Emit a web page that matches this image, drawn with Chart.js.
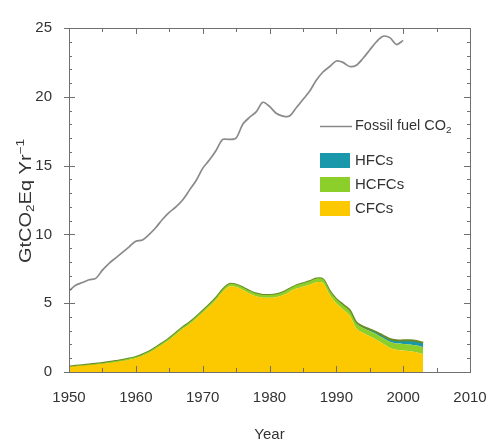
<!DOCTYPE html>
<html>
<head>
<meta charset="utf-8">
<script src="https://cdn.jsdelivr.net/npm/chart.js@4.4.0/dist/chart.umd.min.js"></script>
<style>
html, body { margin: 0; padding: 0; background: #fff; }
#wrap { width: 489px; height: 444px; }
</style>
</head>
<body>
<div id="wrap"><canvas id="chart" width="489" height="444"></canvas></div>
<script>
// halocarbon years (stacked areas)
const years = [1950,1951,1952,1953,1954,1955,1956,1957,1958,1959,
  1960,1961,1962,1963,1964,1965,1966,1967,1968,1969,
  1970,1971,1972,1973,1974,1975,1976,1977,1978,1979,
  1980,1981,1982,1983,1984,1985,1986,1987,1988,1989,
  1990,1991,1992,1993,1994,1995,1996,1997,1998,1999,
  2000,2001,2002,2003];
const cfcs = [0.37,0.42,0.46,0.51,0.55,0.60,0.66,0.73,0.80,0.89,
  1.00,1.18,1.39,1.69,2.00,2.33,2.72,3.12,3.46,3.86,
  4.30,4.75,5.24,5.83,6.22,6.17,5.96,5.71,5.50,5.40,
  5.40,5.44,5.58,5.82,6.06,6.20,6.34,6.53,6.47,5.61,
  4.98,4.54,4.10,3.17,2.84,2.60,2.35,2.05,1.76,1.61,
  1.56,1.50,1.42,1.30];
const hcfcs = [0.03,0.03,0.04,0.04,0.05,0.05,0.06,0.07,0.08,0.09,
  0.10,0.10,0.11,0.11,0.12,0.12,0.13,0.13,0.14,0.14,
  0.15,0.15,0.16,0.17,0.18,0.18,0.19,0.19,0.20,0.20,
  0.20,0.21,0.22,0.23,0.24,0.25,0.26,0.27,0.28,0.29,
  0.30,0.32,0.34,0.35,0.36,0.38,0.40,0.42,0.44,0.46,
  0.48,0.50,0.50,0.50];
const hfcs = [0,0,0,0,0,0,0,0,0,0,
  0,0,0,0,0,0,0,0,0,0,
  0,0,0,0,0,0,0,0,0,0,
  0,0,0,0,0,0,0,0,0,0,
  0.02,0.04,0.06,0.08,0.10,0.12,0.15,0.18,0.20,0.23,
  0.26,0.30,0.33,0.33];

// fossil fuel CO2 line
const fossilYears = [1950,1951,1952,1953,1954,1955,1956,1957,1958,1959,
  1960,1961,1962,1963,1964,1965,1966,1967,1968,1969,
  1970,1971,1972,1973,1974,1975,1976,1977,1978,1979,
  1980,1981,1982,1983,1984,1985,1986,1987,1988,1989,
  1990,1991,1992,1993,1994,1995,1996,1997,1998,1999,2000];
const fossil = [5.9,6.3,6.5,6.7,6.8,7.4,7.9,8.3,8.7,9.1,
  9.5,9.6,10.0,10.5,11.1,11.6,12.0,12.5,13.2,13.9,
  14.8,15.4,16.1,16.9,16.9,17.0,18.0,18.5,18.9,19.6,
  19.3,18.8,18.6,18.6,19.2,19.8,20.4,21.2,21.8,22.2,
  22.6,22.5,22.2,22.3,22.8,23.4,24.0,24.4,24.3,23.8,24.1];

const xTicks = [1950, 1960, 1970, 1980, 1990, 2000, 2010];
const yTicks = [0, 5, 10, 15, 20, 25];

const FONT = '"Liberation Sans", Arial, sans-serif';
const TEXT = '#333';
const FRAME = '#707070';
const colCFC = '#fcc900', colHCFC = '#8ccf2a', colHFC = '#1898aa', colLine = '#8a8a8a';

const pts = (xs, ys) => xs.map((x, i) => ({ x, y: ys[i] }));

// draws text pieces with sub/superscripts, returns width
function richText(ctx, parts, x, y, size, measureOnly) {
  let w = 0;
  parts.forEach(p => {
    const s = p.sub || p.sup ? size * 0.68 : size;
    ctx.font = s + 'px ' + FONT;
    const dy = p.sub ? size * 0.28 : p.sup ? -size * 0.38 : 0;
    if (!measureOnly) ctx.fillText(p.t, x + w, y + dy);
    w += ctx.measureText(p.t).width;
  });
  return w;
}

const frameTicks = {
  id: 'frameTicks',
  afterDatasetsDraw(chart) {
    const { ctx, chartArea: a, scales: { x, y } } = chart;
    ctx.save();
    ctx.strokeStyle = FRAME;
    ctx.lineWidth = 1;
    ctx.strokeRect(Math.round(a.left) + 0.5, Math.round(a.top) + 0.5,
      Math.round(a.right - a.left), Math.round(a.bottom - a.top));
    ctx.beginPath();
    for (let yr = 1950; yr <= 2010; yr += 5) {
      const px = Math.round(x.getPixelForValue(yr)) + 0.5;
      const len = yr % 10 === 0 ? 6 : 4;
      ctx.moveTo(px, a.bottom); ctx.lineTo(px, a.bottom - len);
      ctx.moveTo(px, a.top); ctx.lineTo(px, a.top + len);
    }
    for (let v = 0; v <= 25; v++) {
      const py = Math.round(y.getPixelForValue(v)) + 0.5;
      const len = v % 5 === 0 ? 6 : 3;
      ctx.moveTo(a.left - (v % 5 === 0 ? 5 : 0), py); ctx.lineTo(a.left + len, py);
      ctx.moveTo(a.right, py); ctx.lineTo(a.right - len, py);
    }
    ctx.stroke();
    ctx.restore();
  },
  afterDraw(chart) {
    const ctx = chart.ctx;
    ctx.save();
    ctx.fillStyle = TEXT;
    ctx.textBaseline = 'middle';
    // y axis title, rotated and a bit stretched like the source
    const yParts = [{ t: 'GtCO' }, { t: '2', sub: true }, { t: 'Eq Yr' }, { t: '\u22121', sup: true }];
    const w = richText(ctx, yParts, 0, 0, 16, true);
    ctx.translate(27, 201);
    ctx.rotate(-Math.PI / 2);
    ctx.scale(1.25, 1);
    richText(ctx, yParts, -w / 2, 0, 16);
    ctx.setTransform(1, 0, 0, 1, 0, 0);

    // legend
    ctx.strokeStyle = colLine;
    ctx.lineWidth = 1.5;
    ctx.beginPath();
    ctx.moveTo(320, 126.5); ctx.lineTo(352, 126.5);
    ctx.stroke();
    ctx.fillStyle = TEXT;
    richText(ctx, [{ t: 'Fossil fuel CO' }, { t: '2', sub: true }], 355, 126, 14.5);
    const items = [['HFCs', colHFC, 160], ['HCFCs', colHCFC, 184], ['CFCs', colCFC, 208]];
    items.forEach(([label, col, cy]) => {
      ctx.fillStyle = col;
      ctx.fillRect(320, cy - 7, 30, 15);
      ctx.fillStyle = TEXT;
      ctx.font = '15px ' + FONT;
      ctx.fillText(label, 355, cy + 1);
    });
    ctx.restore();
  }
};

new Chart(document.getElementById('chart'), {
  type: 'line',
  data: {
    datasets: [
      {
        label: 'CFCs', stack: 'gas', data: pts(years, cfcs),
        backgroundColor: colCFC, borderColor: colCFC, borderWidth: 0,
        fill: 'origin', pointRadius: 0, tension: 0.3
      },
      {
        label: 'HCFCs', stack: 'gas', data: pts(years, hcfcs),
        backgroundColor: colHCFC, borderColor: colHCFC, borderWidth: 0,
        fill: '-1', pointRadius: 0, tension: 0.3
      },
      {
        label: 'HFCs', stack: 'gas', data: pts(years, hfcs),
        backgroundColor: colHFC, borderColor: '#6a8a26', borderWidth: 2,
        fill: '-1', pointRadius: 0, tension: 0.3
      },
      {
        label: 'Fossil fuel CO2', stack: 'ff', data: pts(fossilYears, fossil),
        borderColor: colLine, borderWidth: 1.7, fill: false,
        pointRadius: 0, tension: 0.3
      }
    ]
  },
  options: {
    responsive: false,
    animation: false,
    devicePixelRatio: 1,
    layout: { padding: { top: 28, right: 19, left: 0, bottom: 0 } },
    plugins: { legend: { display: false }, tooltip: { enabled: false } },
    scales: {
      x: {
        type: 'linear', min: 1950, max: 2010,
        grid: { display: false, drawTicks: false },
        border: { display: false },
        afterFit(s) { s.height = 72; s.paddingLeft = 0; s.paddingRight = 0; },
        afterBuildTicks(s) { s.ticks = xTicks.map(v => ({ value: v })); },
        ticks: {
          padding: 17, color: TEXT, maxRotation: 0,
          font: { family: FONT, size: 15 },
          callback: v => String(v)
        },
        title: {
          display: true, text: 'Year', color: TEXT,
          font: { family: FONT, size: 15 }, padding: { top: 0, bottom: 0 }
        }
      },
      y: {
        stacked: true, min: 0, max: 25,
        grid: { display: false, drawTicks: false },
        border: { display: false },
        afterFit(s) { s.width = 69; s.paddingTop = 0; s.paddingBottom = 0; },
        afterBuildTicks(s) { s.ticks = yTicks.map(v => ({ value: v })); },
        ticks: { padding: 17, color: TEXT, font: { family: FONT, size: 15 } }
      }
    }
  },
  plugins: [frameTicks]
});
</script>
</body>
</html>
